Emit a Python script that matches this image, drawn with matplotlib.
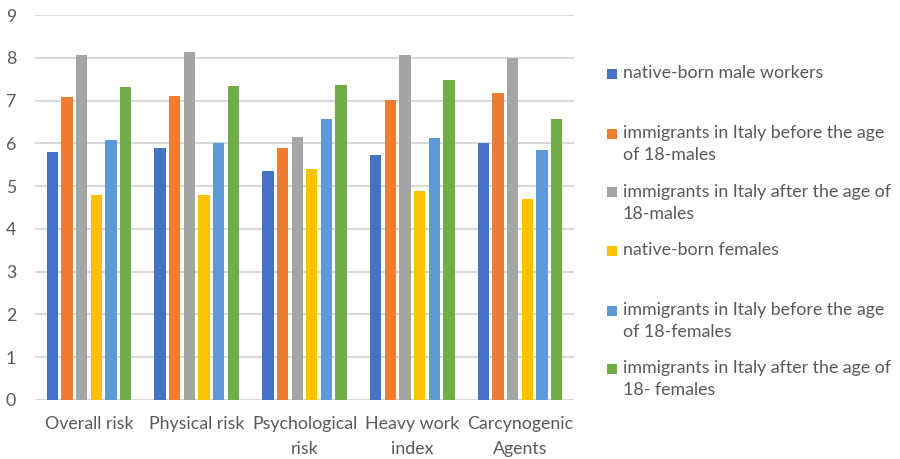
import matplotlib
matplotlib.use("Agg")
import matplotlib.pyplot as plt
from matplotlib.patches import Rectangle
import numpy as np

plt.rcParams['font.family'] = ['Lato', 'DejaVu Sans']

categories = ["Overall risk", "Physical risk", "Psychological\nrisk",
              "Heavy work\nindex", "Carcynogenic\nAgents"]

series_names = [
    "native-born male workers",
    "immigrants in Italy before the age\nof 18-males",
    "immigrants in Italy after the age of\n18-males",
    "native-born females",
    "immigrants in Italy before the age\nof 18-females",
    "immigrants in Italy after the age of\n18- females",
]

native_males = [5.79, 5.90, 5.35, 5.72, 6.01]
imm_before_males = [7.08, 7.11, 5.88, 7.01, 7.17]
imm_after_males = [8.06, 8.13, 6.15, 8.06, 8.00]
native_females = [4.79, 4.79, 5.39, 4.89, 4.69]
imm_before_females = [6.08, 6.01, 6.57, 6.12, 5.84]
imm_after_females = [7.32, 7.33, 7.37, 7.49, 6.58]

series_values = [native_males, imm_before_males, imm_after_males,
                 native_females, imm_before_females, imm_after_females]

colors = ["#4472C4", "#ED7D31", "#A5A5A5", "#FFC000", "#5B9BD5", "#70AD47"]
text_color = "#595959"
grid_color = "#D9D9D9"
fs = 12.8

W, H = 900, 459
fig = plt.figure(figsize=(W / 100, H / 100), dpi=100)
ax = fig.add_axes([35 / W, 1 - 400 / H, (574 - 35) / W, (400 - 15) / H])

x = np.arange(len(categories))
step = 0.136
bar_w = 0.105
n = len(series_values)
for i, (vals, col) in enumerate(zip(series_values, colors)):
    offs = (i - (n - 1) / 2) * step
    ax.bar(x + offs, vals, width=bar_w, color=col, zorder=3)

ax.set_xlim(-0.5, len(categories) - 0.5)
ax.set_ylim(0, 9)
ax.set_yticks(range(0, 10))
ax.set_xticks(x)
ax.set_xticklabels(categories, linespacing=1.68)
ax.yaxis.grid(True, color=grid_color, linewidth=1.5, zorder=0)
ax.set_axisbelow(True)
for s in ax.spines.values():
    s.set_visible(False)
ax.tick_params(axis='both', length=0, labelsize=fs, labelcolor=text_color)
ax.tick_params(axis='y', pad=13.5)
ax.tick_params(axis='x', pad=11.5)

# legend drawn at the right of the plot area, one baseline per text line
entry_baselines = [78.3, 138.3, 196.7, 255, 315, 373.3]
line_step = 22
for name, col, base in zip(series_names, colors, entry_baselines):
    fig.patches.append(Rectangle((607 / W, 1 - (base + 0.5) / H), 10 / W, 10 / H,
                                 transform=fig.transFigure, facecolor=col,
                                 edgecolor='none'))
    for k, line in enumerate(name.split("\n")):
        fig.text(623 / W, 1 - (base + k * line_step) / H, line, ha='left',
                 va='baseline', fontsize=fs, color=text_color)

fig.savefig("out.png", dpi=100)
